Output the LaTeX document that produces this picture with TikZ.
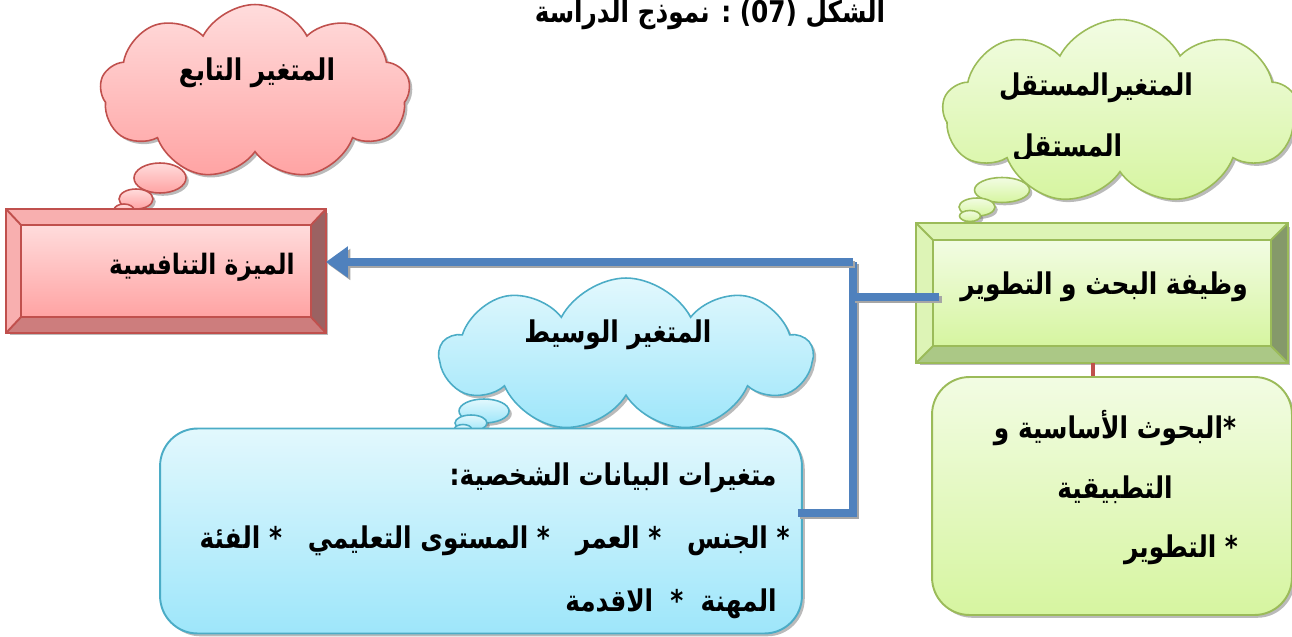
\documentclass[tikz,border=0pt]{standalone}
\usepackage{fontspec}
\newfontfamily\arabicfont[Script=Arabic, FakeStretch=0.83]{DejaVu Sans}
\TeXXeTstate=1
\usetikzlibrary{shapes.symbols,shapes.geometric,shadows,arrows.meta,calc}

\definecolor{redline}{HTML}{C0504D}
\definecolor{redtopc}{HTML}{FFDCDC}
\definecolor{redbotc}{HTML}{FFA3A3}
\definecolor{redbevR}{HTML}{9B6262}
\definecolor{redbevB}{HTML}{CD7D7D}
\definecolor{redbevT}{HTML}{F8AFAF}
\definecolor{grnline}{HTML}{9BBB59}
\definecolor{grntopc}{HTML}{F2FCE3}
\definecolor{grnbotc}{HTML}{D6F5A0}
\definecolor{grnbevR}{HTML}{85996A}
\definecolor{grnbevB}{HTML}{ABC886}
\definecolor{grnbevT}{HTML}{DDF4B6}
\definecolor{bluline}{HTML}{4BACC6}
\definecolor{blutopc}{HTML}{E2F8FD}
\definecolor{bluboc}{HTML}{9EE6FA}
\definecolor{connblue}{HTML}{4F81BD}

\newcommand{\artxt}[1]{\beginR #1\endR}

\tikzset{
  artext/.style={inner sep=0pt, font=\arabicfont\bfseries\fontsize{17}{36}\selectfont},
  softshadow/.style={drop shadow={opacity=0.45, fill=black!60, shadow xshift=1.6pt, shadow yshift=-1.6pt}},
  thought/.style={cloud, cloud puffs=9, cloud puff arc=125, aspect=2.2, inner sep=0pt, line width=0.9pt, softshadow},
  bubble/.style={ellipse, inner sep=0pt, line width=0.9pt, softshadow},
  redfill/.style={draw=redline, top color=redtopc, bottom color=redbotc},
  grnfill/.style={draw=grnline, top color=grntopc, bottom color=grnbotc},
  blufill/.style={draw=bluline, top color=blutopc, bottom color=bluboc},
  bevbox/.style={rectangle, inner sep=0pt, line width=1.1pt, softshadow},
  roundbox/.style={rectangle, rounded corners=0.75cm, inner sep=0pt, line width=1.1pt, softshadow},
  conn/.style={draw=connblue, line width=0.15cm,
    preaction={draw=black!35, line width=0.15cm, transform canvas={shift={(1.4pt,-1.4pt)}}}},
}

\begin{document}
\begin{tikzpicture}[x=0.02cm, y=-0.02cm]
\useasboundingbox (0,0) rectangle (1292,636);

% title
\node[artext, anchor=base] (title) at (710,22)
  {\artxt{الشكل \beginL(07)\endL{} : نموذج الدراسة}};

% ---------- thought clouds ----------
\node[thought, redfill, minimum width=6.2cm, minimum height=3.5cm] (cldR) at (255,92) {};
\node[bubble, redfill, minimum width=1.04cm, minimum height=0.6cm] (bR1) at (160,178) {};
\node[bubble, redfill, minimum width=0.68cm, minimum height=0.4cm] (bR2) at (136,199) {};
\node[bubble, redfill, minimum width=0.4cm, minimum height=0.24cm] (bR3) at (124,210) {};
\node[artext] (cldRtxt) at (257,73) {\artxt{المتغير التابع}};

\node[thought, grnfill, minimum width=7.1cm, minimum height=3.7cm] (cldG) at (1120,112) {};
\node[bubble, grnfill, minimum width=1.1cm, minimum height=0.5cm] (bG1) at (1002,190) {};
\node[bubble, grnfill, minimum width=0.72cm, minimum height=0.36cm] (bG2) at (977,207) {};
\node[bubble, grnfill, minimum width=0.42cm, minimum height=0.22cm] (bG3) at (970,216) {};
\node[artext] (cldGtxt) at (1096,88) {\artxt{المتغيرالمستقل}};
\begin{scope}
  \clip (980,110) rectangle (1200,158);
  \node[artext, anchor=west] (cldGtxt2) at (1012,148) {\artxt{المستقل}};
\end{scope}

\node[thought, blufill, minimum width=7.44cm, minimum height=3.08cm] (cldB) at (626,355) {};
\node[bubble, blufill, minimum width=1.0cm, minimum height=0.48cm] (bB1) at (484,411) {};
\node[bubble, blufill, minimum width=0.64cm, minimum height=0.32cm] (bB2) at (471,423) {};
\node[bubble, blufill, minimum width=0.34cm, minimum height=0.18cm] (bB3) at (463,429) {};
\node[artext] (cldBtxt) at (618,335) {\artxt{المتغير الوسيط}};

% ---------- dependent variable: bevelled box ----------
\node[bevbox, draw=redline, fill=redbotc, minimum width=6.36cm, minimum height=2.44cm] (dep) at (166,271) {};
\fill[redbevT] (dep.north west) -- (dep.north east) -- ($(dep.north east)+(-15,16)$) -- ($(dep.north west)+(15,16)$) -- cycle;
\fill[redbevT] (dep.north west) -- (dep.south west) -- ($(dep.south west)+(15,-16)$) -- ($(dep.north west)+(15,16)$) -- cycle;
\fill[redbevR] (dep.north east) -- (dep.south east) -- ($(dep.south east)+(-15,-16)$) -- ($(dep.north east)+(-15,16)$) -- cycle;
\fill[redbevB] (dep.south west) -- (dep.south east) -- ($(dep.south east)+(-15,-16)$) -- ($(dep.south west)+(15,-16)$) -- cycle;
\shade[top color=redtopc, bottom color=redbotc] ($(dep.north west)+(15,16)$) rectangle ($(dep.south east)+(-15,-16)$);
\draw[redline, line width=1.1pt] ($(dep.north west)+(15,16)$) rectangle ($(dep.south east)+(-15,-16)$);
\draw[redline, line width=1.1pt] (dep.north west) -- ++(15,16) (dep.north east) -- ++(-15,16)
  (dep.south west) -- ++(15,-16) (dep.south east) -- ++(-15,-16);
\draw[redline, line width=1.1pt] (dep.north west) rectangle (dep.south east);
\node[artext, font=\arabicfont\bfseries\fontsize{16}{36}\selectfont] (deptxt) at (202,267) {\artxt{الميزة التنافسية}};

% ---------- independent variable: bevelled box ----------
\node[bevbox, draw=grnline, fill=grnbotc, minimum width=7.4cm, minimum height=2.76cm] (indep) at (1102,293) {};
\fill[grnbevT] (indep.north west) -- (indep.north east) -- ($(indep.north east)+(-17,17)$) -- ($(indep.north west)+(17,17)$) -- cycle;
\fill[grnbevT] (indep.north west) -- (indep.south west) -- ($(indep.south west)+(17,-17)$) -- ($(indep.north west)+(17,17)$) -- cycle;
\fill[grnbevR] (indep.north east) -- (indep.south east) -- ($(indep.south east)+(-17,-17)$) -- ($(indep.north east)+(-17,17)$) -- cycle;
\fill[grnbevB] (indep.south west) -- (indep.south east) -- ($(indep.south east)+(-17,-17)$) -- ($(indep.south west)+(17,-17)$) -- cycle;
\shade[top color=grntopc, bottom color=grnbotc] ($(indep.north west)+(17,17)$) rectangle ($(indep.south east)+(-17,-17)$);
\draw[grnline, line width=1.1pt] ($(indep.north west)+(17,17)$) rectangle ($(indep.south east)+(-17,-17)$);
\draw[grnline, line width=1.1pt] (indep.north west) -- ++(17,17) (indep.north east) -- ++(-17,17)
  (indep.south west) -- ++(17,-17) (indep.south east) -- ++(-17,-17);
\draw[grnline, line width=1.1pt] (indep.north west) rectangle (indep.south east);
\node[artext] (indeptxt) at (1104,287) {\artxt{وظيفة البحث و التطوير}};

% ---------- dimensions of the independent variable ----------
\node[roundbox, grnfill, minimum width=7.2cm, minimum height=4.76cm] (items) at (1112,496) {};
\draw[redline, line width=0.09cm] ($(indep.south)+(-9,0)$) -- ($(items.north)+(-19,0)$);
\node[artext] (itm1) at (1115,428) {\artxt{*البحوث الأساسية و}};
\node[artext] (itm2) at (1115,490) {\artxt{التطبيقية}};
\node[artext] (itm3) at (1181,550) {\artxt{* التطوير}};

% ---------- moderating variable box ----------
\node[roundbox, blufill, minimum width=12.84cm, minimum height=4.1cm] (med) at (481,531) {};
\node[artext, align=right, anchor=east] (medtxt) at (777,541)
  {\artxt{متغيرات البيانات الشخصية:}\\
   \artxt{\kern-0.26cm* الجنس \ \ * العمر \ \ * المستوى التعليمي \ \ * الفئة}\\
   \artxt{المهنة \ * \ الاقدمة}};

% ---------- connectors ----------
\coordinate (jn) at (853,262);
\draw[conn] ($(med.east)+(-5,-18)$) -| (jn);
\draw[conn] ($(indep.west)+(23,4)$) -- (jn |- 0,297);
\draw[conn, -{Triangle[length=0.44cm, width=0.6cm]}] (jn) -- (dep.east |- jn);
\end{tikzpicture}
\end{document}
